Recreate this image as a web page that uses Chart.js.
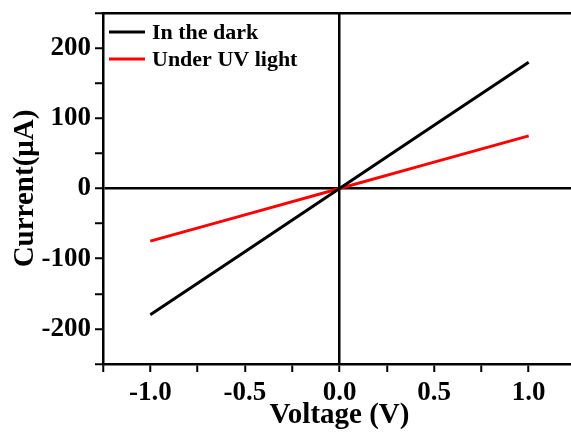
<!DOCTYPE html>
<html>
<head>
<meta charset="utf-8">
<script src="https://cdn.jsdelivr.net/npm/chart.js@4"></script>
<style>
  html, body { margin: 0; padding: 0; background: #fff; overflow: hidden; }
  #wrap { width: 590px; height: 434px; }
</style>
</head>
<body>
<div id="wrap"><canvas id="chart-line" width="590" height="434"></canvas></div>
<script>
// data
var voltage = [-1.0, -0.5, 0.0, 0.5, 1.0];
var darkCurrent = [-180, -90, 0, 90, 180];
var uvCurrent = [-75, -37.5, 0, 37.5, 75];
var seriesNames = ["In the dark", "Under UV light"];
var seriesColors = ["#000000", "#ff0000"];

function toPoints(xs, ys) {
    var pts = [];
    for (var i = 0; i < xs.length; i++) pts.push({ x: xs[i], y: ys[i] });
    return pts;
}

// legend drawn inside the plot, top left
var insideLegend = {
    id: 'insideLegend',
    afterDraw: function (chart) {
        var ctx = chart.ctx;
        var area = chart.chartArea;
        ctx.save();
        ctx.font = 'bold 22px "Liberation Serif", "Times New Roman", serif';
        ctx.textBaseline = 'middle';
        chart.data.datasets.forEach(function (ds, i) {
            var y = area.top + 19 + i * 27;
            ctx.strokeStyle = ds.borderColor;
            ctx.lineWidth = 3;
            ctx.beginPath();
            ctx.moveTo(area.left + 6, y);
            ctx.lineTo(area.left + 42, y);
            ctx.stroke();
            ctx.fillStyle = '#000';
            ctx.fillText(ds.label, area.left + 49, y + 1);
        });
        ctx.restore();
    }
};

var tickFont = { family: '"Liberation Serif", "Times New Roman", serif', size: 27, weight: 'bold' };
var titleFont = { family: '"Liberation Serif", "Times New Roman", serif', size: 29, weight: 'bold' };

var ctx = document.getElementById('chart-line');
var myLineChart = new Chart(ctx, {
    type: 'line',
    data: {
        datasets: [{
            label: seriesNames[0],
            data: toPoints(voltage, darkCurrent),
            borderColor: seriesColors[0],
            borderWidth: 3,
            pointRadius: 0,
            tension: 0
        }, {
            label: seriesNames[1],
            data: toPoints(voltage, uvCurrent),
            borderColor: seriesColors[1],
            borderWidth: 3,
            pointRadius: 0,
            tension: 0
        }]
    },
    options: {
        responsive: false,
        animation: false,
        layout: { padding: { top: 13, right: 14, left: 0, bottom: 0 } },
        plugins: {
            legend: { display: false },
            tooltip: { enabled: false }
        },
        scales: {
            x: {
                type: 'linear',
                min: -1.25,
                max: 1.25,
                afterFit: function (scale) {
                    scale.height = 70;
                    scale.paddingLeft = 0;
                    scale.paddingRight = 0;
                },
                ticks: {
                    stepSize: 0.25,
                    autoSkip: false,
                    maxRotation: 0,
                    color: '#000',
                    font: tickFont,
                    padding: 5,
                    callback: function (v) {
                        return Math.abs(v * 2 - Math.round(v * 2)) < 1e-6 ? v.toFixed(1) : '';
                    }
                },
                grid: {
                    color: function (c) { return c.tick && c.tick.value === 0 ? '#000' : 'rgba(0,0,0,0)'; },
                    lineWidth: 2.5,
                    tickColor: '#000',
                    tickWidth: 2,
                    tickLength: 8
                },
                border: { display: true, color: '#000', width: 2.5 },
                title: {
                    display: true,
                    text: 'Voltage (V)',
                    color: '#000',
                    font: titleFont,
                    padding: { top: 0, bottom: 1 }
                }
            },
            xTop: {
                type: 'linear',
                position: 'top',
                min: -1.25,
                max: 1.25,
                afterFit: function (scale) {
                    scale.height = 0;
                    scale.paddingLeft = 0;
                    scale.paddingRight = 0;
                },
                ticks: { display: false },
                grid: { display: false },
                border: { display: true, color: '#000', width: 2.5 }
            },
            y: {
                type: 'linear',
                min: -250,
                max: 250,
                afterFit: function (scale) {
                    scale.width = 103;
                    scale.paddingTop = 0;
                    scale.paddingBottom = 0;
                },
                ticks: {
                    stepSize: 50,
                    autoSkip: false,
                    color: '#000',
                    font: tickFont,
                    padding: 4,
                    callback: function (v) { return v % 100 === 0 ? String(v) : ''; }
                },
                grid: {
                    color: function (c) { return c.tick && c.tick.value === 0 ? '#000' : 'rgba(0,0,0,0)'; },
                    lineWidth: 2.5,
                    tickColor: '#000',
                    tickWidth: 2,
                    tickLength: 8
                },
                border: { display: true, color: '#000', width: 2.5 },
                title: {
                    display: true,
                    text: 'Current(\u03bcA)',
                    color: '#000',
                    font: titleFont,
                    padding: { top: 8, bottom: 0 }
                }
            }
        }
    },
    plugins: [insideLegend]
});
</script>
</body>
</html>
